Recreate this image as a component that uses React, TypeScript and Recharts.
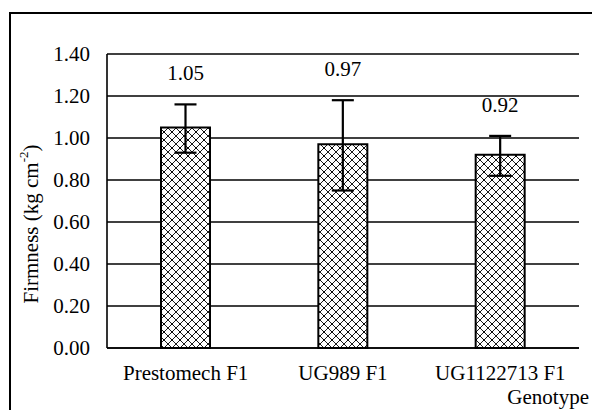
import React from 'react';
import { BarChart, Bar, XAxis, YAxis, CartesianGrid, ErrorBar, LabelList } from 'recharts';

const genotypes = ['Prestomech F1', 'UG989 F1', 'UG1122713 F1'];
const firmness = [1.05, 0.97, 0.92];
const errLow = [0.12, 0.22, 0.1];
const errHigh = [0.11, 0.21, 0.09];
const yTicks = [0, 0.2, 0.4, 0.6, 0.8, 1.0, 1.2, 1.4];

const data = genotypes.map((g, i) => ({
  name: g,
  value: firmness[i],
  err: [errLow[i], errHigh[i]],
}));

const FONT = "'Liberation Serif', 'DejaVu Serif', serif";
const textStyle = { fontFamily: FONT };

const ValueLabel = (props: any) => {
  const { x, width, index, value, y, height } = props;
  const d = data[index];
  const pxPerUnit = height / d.value;
  const errTopY = y - d.err[1] * pxPerUnit;
  return (
    <text
      x={x + width / 2}
      y={errTopY - 31}
      textAnchor="middle"
      dominantBaseline="central"
      style={textStyle}
      fontSize={21}
      fill="#000"
    >
      {Number(value).toFixed(2)}
    </text>
  );
};

export default function App() {
  return (
    <div style={{ position: 'absolute', left: 0, top: 0, width: 592, height: 410, background: '#fff', fontFamily: FONT }}>
      <svg width={592} height={410} style={{ position: 'absolute', left: 0, top: 0 }}>
        <line x1={10} y1={13} x2={592} y2={13} stroke="#000" strokeWidth={2} />
        <line x1={10} y1={12} x2={10} y2={410} stroke="#000" strokeWidth={2} />
      </svg>
      <div style={{ position: 'absolute', left: 0, top: 0 }}>
        <BarChart
          width={592}
          height={410}
          data={data}
          margin={{ top: 54, right: 13, left: 0, bottom: 0 }}
          barCategoryGap={0}
          style={textStyle}
        >
          <defs>
            <pattern id="hatch" width={8} height={8} patternUnits="userSpaceOnUse">
              <rect width={8} height={8} fill="#fff" />
              <path d="M0,0 L8,8 M8,0 L0,8" stroke="#000" strokeWidth={0.9} />
              <circle cx={4} cy={4} r={0.9} fill="#000" />
            </pattern>
          </defs>
          <CartesianGrid yAxisId="left" vertical={false} stroke="#000" strokeWidth={1.6} />
          <XAxis
            dataKey="name"
            axisLine={{ stroke: '#000', strokeWidth: 1.6 }}
            tickLine={false}
            tickSize={0}
            tickMargin={17}
            height={62}
            tick={{ fill: '#000', fontFamily: FONT, fontSize: 21, style: textStyle }}
            interval={0}
            label={{
              content: () => (
                <text x={589} y={404} textAnchor="end" style={textStyle} fontSize={21} fill="#000">
                  Genotype
                </text>
              ),
            }}
          />
          <YAxis
            yAxisId="left"
            domain={[0, 1.4]}
            ticks={yTicks}
            width={107}
            axisLine={{ stroke: '#000', strokeWidth: 1.6 }}
            tickLine={false}
            tickSize={0}
            tickMargin={17}
            tickFormatter={(v: number) => v.toFixed(2)}
            tick={{ fill: '#000', fontFamily: FONT, fontSize: 21, style: textStyle }}
            label={{
              content: () => (
                <text
                  x={31}
                  y={224}
                  transform="rotate(-90 31 224)"
                  textAnchor="middle"
                  dominantBaseline="central"
                  style={textStyle}
                  fontSize={21}
                  fill="#000"
                >
                  Firmness (kg cm
                  <tspan fontSize={13} dy={-8}>-2</tspan>
                  <tspan dy={8}>)</tspan>
                </text>
              ),
            }}
          />
          <YAxis
            yAxisId="right"
            orientation="right"
            domain={[0, 1.4]}
            width={0}
            tick={false}
            tickLine={false}
            axisLine={{ stroke: '#000', strokeWidth: 1.6 }}
          />
          <Bar
            yAxisId="left"
            dataKey="value"
            barSize={49}
            fill="url(#hatch)"
            stroke="#000"
            strokeWidth={2}
            isAnimationActive={false}
          >
            <ErrorBar dataKey="err" width={11} stroke="#000" strokeWidth={2.2} direction="y" />
            <LabelList dataKey="value" content={ValueLabel} />
          </Bar>
        </BarChart>
      </div>
    </div>
  );
}
